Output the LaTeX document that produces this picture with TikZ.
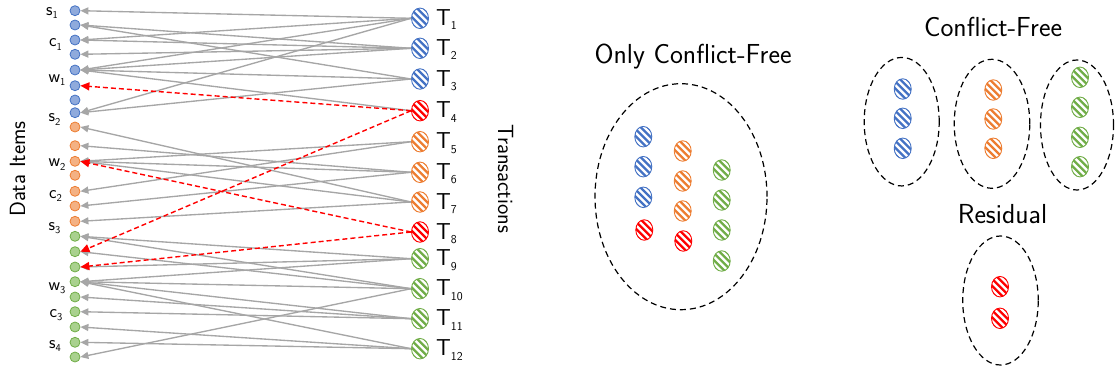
\documentclass[tikz,border=0pt]{standalone}
\usepackage{fontspec}
\usetikzlibrary{arrows.meta,shapes.geometric,calc}
\definecolor{cblue}{HTML}{4472C4}
\definecolor{corange}{HTML}{ED7D31}
\definecolor{cgreen}{HTML}{70AD47}
\definecolor{cred}{HTML}{FF0000}
\definecolor{lblue}{HTML}{8FAADC}
\definecolor{lorange}{HTML}{F4B183}
\definecolor{lgreen}{HTML}{A9D18E}
\definecolor{egray}{HTML}{A6A6A6}
\newcommand\tlab[1]{{\fontsize{23}{23}\selectfont T}\raisebox{-4.3pt}{\fontsize{12}{12}\selectfont #1}}
\newcommand\dlab[2]{{\fontsize{18}{18}\selectfont #1}\raisebox{-3.5pt}{\fontsize{10.5}{10.5}\selectfont #2}}
\tikzset{
  hatch/.style={ellipse, draw=#1, line width=0.9pt, minimum width=17pt, minimum height=20.5pt,
    inner sep=0pt, fill=white,
    path picture={\foreach \k in {-3,...,3}{\draw[#1, line width=2.3pt]
      ($(path picture bounding box.center)+(\k*7pt-16pt,16pt)$) -- ++(32pt,-32pt);}}},
  item/.style n args={2}{circle, fill=#1, draw=#2, line width=0.8pt, minimum size=10pt, inner sep=0pt},
  con/.style={draw=egray, line width=1.35pt, -{Triangle[length=8pt,width=7pt]}},
  rcon/.style={draw=cred, line width=1.4pt, dash pattern=on 5pt off 3pt, -{Triangle[length=9pt,width=8pt]}},
  grp/.style={ellipse, draw=black, line width=1.2pt, dash pattern=on 6pt off 4pt, inner sep=0pt},
  lab/.style={anchor=base west, inner sep=0pt},
  title/.style={anchor=base, inner sep=0pt, font=\sffamily\fontsize{27.5}{27.5}\selectfont\addfontfeatures{LetterSpace=3}},
  side/.style={anchor=base, inner sep=0pt, font=\sffamily\fontsize{22}{22}\selectfont},
}
\begin{document}
\begin{tikzpicture}[x=1pt,y=-1pt,font=\sffamily]
\useasboundingbox (0,0) rectangle (1116,372);
% data items
\foreach \i/\y/\f/\d in {0/10.7/lblue/cblue,1/25/lblue/cblue,2/40/lblue/cblue,3/54.3/lblue/cblue,
  4/70/lblue/cblue,5/85.7/lblue/cblue,6/100/lblue/cblue,7/112.7/lblue/cblue,
  8/127/lorange/corange,9/145.7/lorange/corange,10/161.3/lorange/corange,11/175.3/lorange/corange,
  12/191.3/lorange/corange,13/206/lorange/corange,14/221.3/lorange/corange,
  15/236.3/lgreen/cgreen,16/251.7/lgreen/cgreen,17/267/lgreen/cgreen,18/281.7/lgreen/cgreen,
  19/297/lgreen/cgreen,20/311.7/lgreen/cgreen,21/327/lgreen/cgreen,22/342.3/lgreen/cgreen,
  23/357/lgreen/cgreen}
  \node[item={\f}{\d}] (d\i) at (75,\y) {};
% data labels
\node[lab] (ls1) at (46,15) {\dlab{s}{1}};
\node[lab] (lc1) at (49,46.7) {\dlab{c}{1}};
\node[lab] (lw1) at (48.5,82) {\dlab{w}{1}};
\node[lab] (ls2) at (48.5,121.7) {\dlab{s}{2}};
\node[lab] (lw2) at (48.5,166.7) {\dlab{w}{2}};
\node[lab] (lc2) at (49,198) {\dlab{c}{2}};
\node[lab] (ls3) at (48.5,230) {\dlab{s}{3}};
\node[lab] (lw3) at (48.5,290) {\dlab{w}{3}};
\node[lab] (lc3) at (49.5,317) {\dlab{c}{3}};
\node[lab] (ls4) at (49,348) {\dlab{s}{4}};
% transactions
\foreach \i/\y/\c in {1/18.3/cblue,2/48.3/cblue,3/79/cblue,4/110.7/cred,5/141.7/corange,
  6/172.3/corange,7/202/corange,8/232/cred,9/258.7/cgreen,10/288.7/cgreen,11/318.7/cgreen,12/348.7/cgreen}{
  \node[hatch=\c] (T\i) at (420,\y) {};
  \node[lab] (lT\i) at (436,\y+7) {\tlab{\i}};
}
% axis titles
\node[side, rotate=90] (ditems) at (25,169) {Data Items};
\node[side, rotate=-90] (trans) at (498,179) {Transactions};
% connectors
\foreach \t/\d in {1/0,1/2,1/4,1/7, 2/1,2/2,2/3,2/4, 3/1,3/4,3/7, 4/4, 5/10,5/12, 6/9,6/10,6/13,
  7/8,7/10,7/14, 9/15,9/17,9/18, 10/15,10/16,10/18,10/23, 11/18,11/19,11/20, 12/18,12/21,12/22}
  \draw[con] (T\t.west) -- (d\d.east);
\draw[rcon] (T4.west) -- (d5.east);
\draw[rcon] (T4.west) -- (d16.east);
\draw[rcon] (T8.west) -- (d10.east);
\draw[rcon] (T8.west) -- (d17.east);
% right part
\node[title] (t1) at (693,63.3) {Only Conflict-Free};
\node[title] (t2) at (993,36.7) {Conflict-Free};
\node[title] (t3) at (1002.5,223.3) {Residual};
\node[grp, minimum width=172pt, minimum height=226pt] (g0) at (681,196.7) {};
\node[grp, minimum width=75pt, minimum height=128.5pt] (g1) at (901.7,121.7) {};
\node[grp, minimum width=75.5pt, minimum height=129pt] (g2) at (992,123.8) {};
\node[grp, minimum width=73pt, minimum height=130pt] (g3) at (1077,125) {};
\node[grp, minimum width=75.5pt, minimum height=129pt] (g4) at (1000.5,300.5) {};
% group contents
\foreach \n/\x/\y/\c in {a1/643.3/136.7/cblue,a2/643.3/166.7/cblue,a3/643.3/197.3/cblue,a4/644.3/230/cred,
  b1/682.7/151/corange,b2/682.7/181/corange,b3/682.7/211/corange,b4/683.3/241/cred,
  c1/721.7/170/cgreen,c2/721.7/200/cgreen,c3/721.7/230/cgreen,c4/721.7/261/cgreen,
  e1/902.7/89/cblue,e2/902.7/118.3/cblue,e3/902.7/148.3/cblue,
  f1/993.3/90/corange,f2/993.3/119/corange,f3/993.3/148.3/corange,
  h1/1080/77.3/cgreen,h2/1080/107.3/cgreen,h3/1080/137.3/cgreen,h4/1080/166.7/cgreen,
  r1/1000/286.7/cred,r2/1000/318.3/cred}
  \node[hatch=\c] (\n) at (\x,\y) {};
\end{tikzpicture}
\end{document}
